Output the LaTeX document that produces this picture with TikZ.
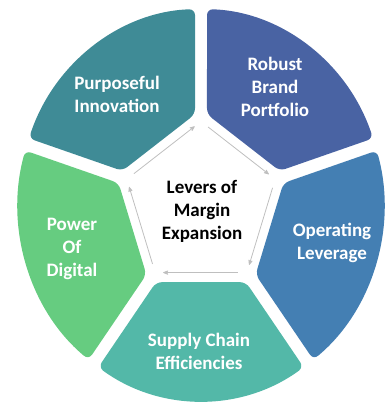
\documentclass[tikz,border=0pt]{standalone}
\usepackage{fontspec}
\setmainfont{Carlito}
\usepackage{tikz}
\usetikzlibrary{arrows}

\definecolor{innovc}{RGB}{63,139,150}
\definecolor{brandc}{RGB}{73,99,163}
\definecolor{operc}{RGB}{68,127,179}
\definecolor{supplyc}{RGB}{83,184,168}
\definecolor{digitc}{RGB}{102,204,128}

\begin{document}
\begin{tikzpicture}[x=1pt, y=1.071pt, >=stealth', semithick]
\tikzstyle{lever}=[rounded corners=6pt]
\tikzstyle{tag}=[text=white, font=\bfseries\fontsize{19}{23}\selectfont, align=center]
\tikzstyle{cyc}=[->, draw=gray!50, line width=0.8pt, shorten <=9pt, shorten >=8pt]

\useasboundingbox (-201pt,-198pt) rectangle (185pt,205pt);

% five levers round the centre
\fill[lever, fill=brandc]  (85.95:84.9) -- (88.12:183)
  arc[start angle=88.12, end angle=19.88, radius=183] -- (22.05:84.9) -- cycle;
\fill[lever, fill=operc]   (13.95:84.9) -- (16.12:183)
  arc[start angle=16.12, end angle=-52.12, radius=183] -- (-49.95:84.9) -- cycle;
\fill[lever, fill=supplyc] (-58.05:84.9) -- (-55.88:183)
  arc[start angle=-55.88, end angle=-124.12, radius=183] -- (-121.95:84.9) -- cycle;
\fill[lever, fill=digitc]  (-130.05:84.9) -- (-127.88:183)
  arc[start angle=-127.88, end angle=-196.12, radius=183] -- (-193.95:84.9) -- cycle;
\fill[lever, fill=innovc]  (157.95:84.9) -- (160.12:183)
  arc[start angle=160.12, end angle=91.88, radius=183] -- (94.05:84.9) -- cycle;

\node[tag] (innov)  at (-84pt,111pt)  {Purposeful\\Innovation};
\node[tag] (brand)  at (74pt,118pt)   {Robust\\Brand\\Portfolio};
\node[tag] (oper)   at (131pt,-38pt)  {Operating\\Leverage};
\node[tag] (supply) at (-2pt,-146pt)  {Supply Chain\\Efficiencies};
\node[tag] (digit)  at (-129pt,-44pt) {Power\\Of\\Digital};
\node[tag, text=black] (core) at (1pt,-6pt) {Levers of\\Margin\\Expansion};

% the cycle
\coordinate (v1) at (90:78);
\coordinate (v2) at (18:78);
\coordinate (v3) at (-54:78);
\coordinate (v4) at (-126:78);
\coordinate (v5) at (162:78);
\draw[cyc] (v5) -- (v1);
\draw[cyc] (v1) -- (v2);
\draw[cyc] (v2) -- (v3);
\draw[cyc] (v3) -- (v4);
\draw[cyc] (v4) -- (v5);

\end{tikzpicture}
\end{document}
